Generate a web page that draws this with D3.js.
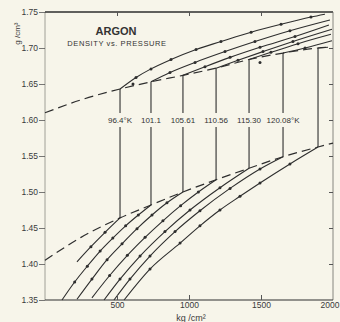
<!DOCTYPE html>
<html>
<head>
<meta charset="utf-8">
<script src="https://cdn.jsdelivr.net/npm/d3@7"></script>
<style>
  body { margin: 0; background: #f7f5ea; }
  svg { display: block; font-family: "Liberation Sans Narrow", "Liberation Sans", sans-serif; }
  .tick text { fill: #3a3a3a; }
</style>
</head>
<body>
<div id="chart"></div>
<script>
// isotherm temperatures (last one is not labelled in the original)
const temps = ["96.4°K", "101.1", "105.61", "110.56", "115.30", "120.08°K", ""];

// melting boundaries: [pressure kg/cm2, density g/cm3]
const solidBoundary = [[0, 1.610], [250, 1.628], [521, 1.643], [736, 1.653], [958, 1.662], [1188, 1.672], [1417, 1.684], [1653, 1.693], [1896, 1.700], [1965, 1.701]];
const liquidBoundary = [[0, 1.405], [250, 1.437], [521, 1.464], [736, 1.482], [958, 1.500], [1188, 1.517], [1417, 1.533], [1653, 1.549], [1896, 1.5625], [2000, 1.568]];

// liquid isotherms
const liquid1 = [[222, 1.403], [319, 1.424], [417, 1.444], [521, 1.464]];
const liquid2 = [[118, 1.350], [206, 1.375], [294, 1.397], [383, 1.418], [471, 1.436], [560, 1.453], [648, 1.468], [736, 1.482]];
const liquid3 = [[222, 1.351], [326, 1.379], [431, 1.406], [535, 1.428], [639, 1.449], [743, 1.468], [847, 1.485], [958, 1.500]];
const liquid4 = [[326, 1.353], [449, 1.384], [572, 1.412], [695, 1.437], [819, 1.460], [942, 1.481], [1065, 1.500], [1188, 1.517]];
const liquid5 = [[410, 1.350], [521, 1.379], [660, 1.411], [833, 1.445], [1007, 1.475], [1215, 1.506], [1417, 1.533]];
const liquid6 = [[479, 1.350], [590, 1.379], [729, 1.411], [903, 1.445], [1076, 1.474], [1285, 1.505], [1493, 1.532], [1653, 1.549]];
const liquid7 = [[549, 1.350], [729, 1.393], [938, 1.429], [1076, 1.453], [1215, 1.475], [1354, 1.494], [1493, 1.5125], [1701, 1.539], [1896, 1.5625]];

// solid isotherms
const solid1 = [[521, 1.643], [632, 1.659], [736, 1.671], [875, 1.684], [1049, 1.698], [1222, 1.709], [1431, 1.722], [1639, 1.733], [1847, 1.743], [1944, 1.747]];
const solid2 = [[736, 1.653], [868, 1.666], [1042, 1.680], [1250, 1.695], [1458, 1.709], [1701, 1.724], [1979, 1.739]];
const solid3 = [[958, 1.662], [1111, 1.674], [1285, 1.687], [1493, 1.701], [1736, 1.716], [1972, 1.732]];
const solid4 = [[1188, 1.672], [1340, 1.683], [1514, 1.695], [1722, 1.709], [1993, 1.726]];
const solid5 = [[1417, 1.684], [1569, 1.694], [1757, 1.706], [1986, 1.719]];
const solid6 = [[1653, 1.693], [1806, 1.700], [1993, 1.710]];
const solid7 = [[1896, 1.700], [1965, 1.701]];

const liquids = [liquid1, liquid2, liquid3, liquid4, liquid5, liquid6, liquid7];
const solids = [solid1, solid2, solid3, solid4, solid5, solid6, solid7];

// stray points in the original
const extraPoints = [[611, 1.650], [1493, 1.680]];

const xTicks = [500, 1000, 1500, 2000];
const yTicks = [1.35, 1.40, 1.45, 1.50, 1.55, 1.60, 1.65, 1.70, 1.75];

const width = 340, height = 322;
const margin = {top: 12, right: 7, bottom: 22, left: 45};
const ink = "#2e2e2e";

let svg = d3.select("#chart").append("svg")
    .attr("width", width)
    .attr("height", height);

let x = d3.scaleLinear().domain([0, 2000]).range([margin.left, width - margin.right]);
let y = d3.scaleLinear().domain([1.35, 1.75]).range([height - margin.bottom, margin.top]);

let plot = svg.append("g");

// frame
plot.append("line").attr("x1", x(0)).attr("x2", x(0)).attr("y1", y(1.35)).attr("y2", y(1.75))
    .attr("stroke", "#8a8a84").attr("stroke-width", 0.8);
plot.append("line").attr("x1", x(0)).attr("x2", x(2000)).attr("y1", y(1.75)).attr("y2", y(1.75))
    .attr("stroke", ink).attr("stroke-width", 1.4);
plot.append("line").attr("x1", x(2000)).attr("x2", x(2000)).attr("y1", y(1.35)).attr("y2", y(1.75))
    .attr("stroke", "#6a6a66").attr("stroke-width", 0.8);
plot.append("line").attr("x1", x(0)).attr("x2", x(2000)).attr("y1", y(1.35)).attr("y2", y(1.35))
    .attr("stroke", ink).attr("stroke-width", 1.2);

// axes
let yAxis = svg.append("g")
    .attr("transform", `translate(${x(0)},0)`)
    .call(d3.axisLeft(y).tickValues(yTicks).tickFormat(d3.format(".2f")).tickSize(6).tickPadding(1));
yAxis.select(".domain").remove();
yAxis.selectAll("line").attr("stroke", "#555").attr("stroke-width", 0.8);
yAxis.selectAll("text").attr("font-size", 8.5);

let yAxisR = svg.append("g")
    .attr("transform", `translate(${x(2000)},0)`)
    .call(d3.axisLeft(y).tickValues(yTicks.slice(1, -1)).tickFormat("").tickSize(4));
yAxisR.select(".domain").remove();
yAxisR.selectAll("line").attr("stroke", "#555");

let xAxis = svg.append("g")
    .attr("transform", `translate(0,${y(1.35)})`)
    .call(d3.axisTop(x).tickValues(xTicks.slice(0, -1)).tickFormat("").tickSize(5));
xAxis.select(".domain").remove();
xAxis.selectAll("line").attr("stroke", "#555");

let xLabels = svg.append("g")
    .attr("transform", `translate(0,${y(1.35)})`)
    .call(d3.axisBottom(x).tickValues(xTicks).tickFormat(d3.format("d")).tickSize(0).tickPadding(2));
xLabels.select(".domain").remove();
xLabels.selectAll("text").attr("font-size", 8.5);
// last label sits at the right edge
xLabels.selectAll("text").filter(d => d === 2000).attr("text-anchor", "end").attr("dx", 6);

let xAxisTop = svg.append("g")
    .attr("transform", `translate(0,${y(1.75)})`)
    .call(d3.axisBottom(x).tickValues(xTicks.slice(0, -1)).tickFormat("").tickSize(4));
xAxisTop.select(".domain").remove();
xAxisTop.selectAll("line").attr("stroke", "#555");

svg.append("text")
    .attr("x", x(1000) + 2).attr("y", height - 1)
    .attr("text-anchor", "middle").attr("font-size", 9).attr("fill", "#3a3a3a")
    .text("kg /cm²");

svg.append("text")
    .attr("transform", `translate(20,${y(1.72)}) rotate(-90)`)
    .attr("text-anchor", "middle").attr("font-size", 8).attr("fill", "#3a3a3a")
    .text("g /cm³");

// title
svg.append("text").attr("x", x(500) - 1).attr("y", 35)
    .attr("text-anchor", "middle").attr("font-size", 11).attr("font-weight", "bold")
    .attr("fill", "#333").text("ARGON");
svg.append("text").attr("x", x(500)).attr("y", 46)
    .attr("text-anchor", "middle").attr("font-size", 7.5).attr("letter-spacing", 0.6)
    .attr("fill", "#333").text("DENSITY  vs.  PRESSURE");

let line = d3.line().x(d => x(d[0])).y(d => y(d[1])).curve(d3.curveMonotoneX);

// melting boundaries (dashed)
plot.selectAll("path.boundary")
    .data([solidBoundary, liquidBoundary])
    .enter()
    .append("path")
    .classed("boundary", true)
    .attr("d", line)
    .attr("fill", "none")
    .attr("stroke", ink)
    .attr("stroke-width", 1.2)
    .attr("stroke-dasharray", "9,5");

// isotherms
plot.selectAll("path.iso")
    .data(liquids.concat(solids))
    .enter()
    .append("path")
    .classed("iso", true)
    .attr("d", line)
    .attr("fill", "none")
    .attr("stroke", ink)
    .attr("stroke-width", 1.1);

// measured points
let pts = [];
for (let c of liquids.concat(solids)) {
    for (let i = 1; i < c.length - 1; i++) pts.push(c[i]);
}
pts = pts.concat(extraPoints);
plot.selectAll("circle.pt")
    .data(pts)
    .enter()
    .append("circle")
    .classed("pt", true)
    .attr("cx", d => x(d[0]))
    .attr("cy", d => y(d[1]))
    .attr("r", 1.5)
    .attr("fill", ink);

// vertical tie lines between the two phases, broken for the labels
const labelY = 120;
temps.forEach(function(t, i) {
    let top = solids[i][0], bot = liquids[i][liquids[i].length - 1];
    let xv = x(top[0]);
    let gap = t === "" ? 0 : 7;
    plot.append("line")
        .attr("x1", xv).attr("x2", xv)
        .attr("y1", y(top[1])).attr("y2", labelY - gap)
        .attr("stroke", ink).attr("stroke-width", 1.1);
    plot.append("line")
        .attr("x1", xv).attr("x2", xv)
        .attr("y1", labelY + gap).attr("y2", y(bot[1]))
        .attr("stroke", ink).attr("stroke-width", 1.1);
    if (t !== "") {
        plot.append("text")
            .attr("x", xv)
            .attr("y", labelY + 3)
            .attr("text-anchor", "middle")
            .attr("font-size", 8)
            .attr("fill", "#333")
            .text(t);
    }
});
</script>
</body>
</html>
